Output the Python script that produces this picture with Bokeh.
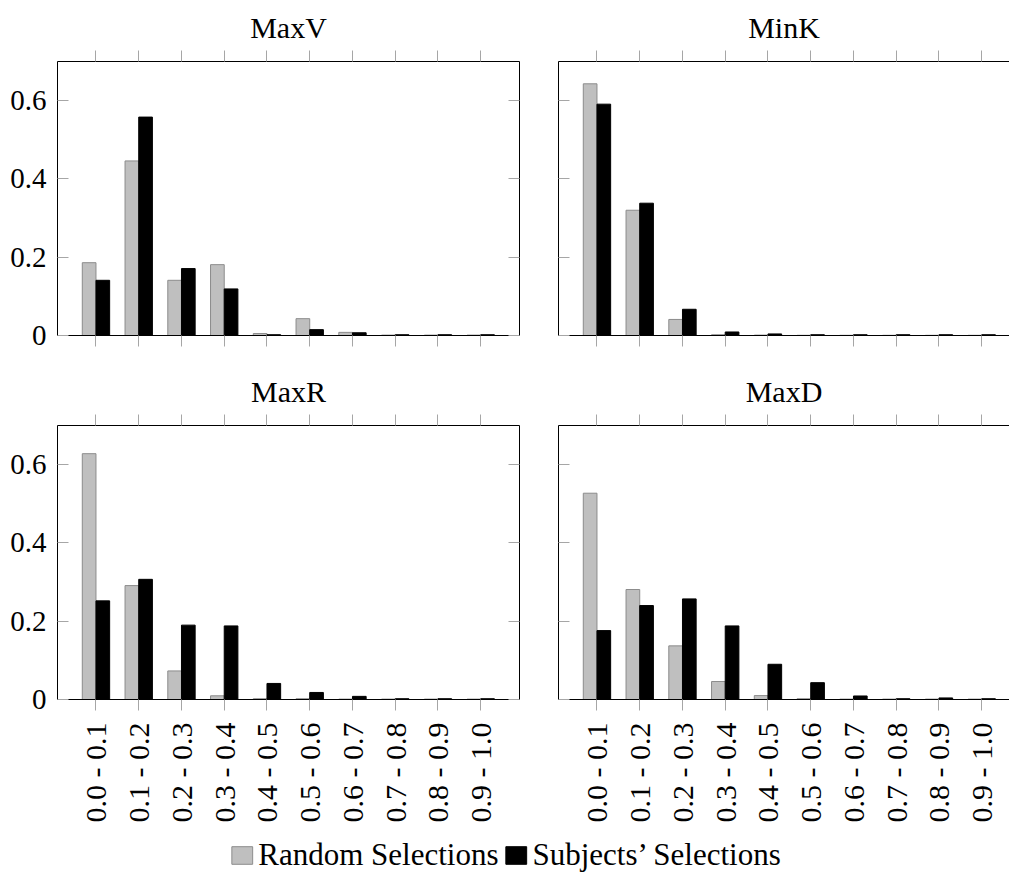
import math
from bokeh.plotting import figure
from bokeh.models import FixedTicker, LinearAxis, Range1d, ColumnDataSource, Legend, LegendItem
from bokeh.layouts import column, row
from bokeh.embed import file_html
from bokeh.resources import INLINE

categories = ["0.0 - 0.1", "0.1 - 0.2", "0.2 - 0.3", "0.3 - 0.4", "0.4 - 0.5",
              "0.5 - 0.6", "0.6 - 0.7", "0.7 - 0.8", "0.8 - 0.9", "0.9 - 1.0"]

maxv_random = [0.186, 0.446, 0.141, 0.181, 0.005, 0.043, 0.008, 0.001, 0.001, 0.001]
maxv_subjects = [0.141, 0.558, 0.171, 0.119, 0.002, 0.015, 0.007, 0.002, 0.002, 0.002]
mink_random = [0.643, 0.320, 0.041, 0.002, 0.001, 0.0005, 0.0005, 0.0005, 0.0005, 0.0005]
mink_subjects = [0.591, 0.338, 0.067, 0.009, 0.004, 0.002, 0.002, 0.002, 0.002, 0.002]
maxr_random = [0.628, 0.291, 0.073, 0.0095, 0.002, 0.002, 0.001, 0.001, 0.001, 0.001]
maxr_subjects = [0.252, 0.307, 0.190, 0.188, 0.041, 0.018, 0.008, 0.002, 0.002, 0.002]
maxd_random = [0.527, 0.281, 0.137, 0.046, 0.010, 0.002, 0.001, 0.001, 0.001, 0.001]
maxd_subjects = [0.176, 0.240, 0.257, 0.188, 0.090, 0.043, 0.009, 0.002, 0.004, 0.002]

y_ticks = [0, 0.2, 0.4, 0.6]
y_tick_labels = ["0", "0.2", "0.4", "0.6"]
series_names = ["Random Selections", "Subjects\u2019 Selections"]

FONT = "Liberation Serif"
GRAY_FILL = "#bfbfbf"
GRAY_LINE = "#8c8c8c"
TICK_COLOR = "#a6a6a6"
BAR_W = 0.32
X_START = -0.9
UNIT_PX = 42.75


def style_axis(ax, tick_in=0, tick_out=0, labels=False):
    ax.axis_line_color = "black"
    ax.axis_line_width = 1
    ax.major_tick_line_color = TICK_COLOR
    ax.major_tick_line_width = 1
    ax.major_tick_in = tick_in
    ax.major_tick_out = tick_out
    ax.minor_tick_line_color = None
    ax.major_label_text_font = FONT
    ax.major_label_text_color = "black"
    if not labels:
        ax.major_label_text_font_size = "0px"
        ax.major_label_standoff = 0


def make_panel(title, rnd, sub, frame_w, left_b, right_b, top_b, bottom_b,
               ylabels, xlabels, right_axis):
    x_end = X_START + frame_w / UNIT_PX
    p = figure(frame_width=frame_w, frame_height=274,
               x_range=Range1d(X_START, x_end), y_range=Range1d(0, 0.7),
               output_backend="svg", toolbar_location=None,
               x_axis_location=None, y_axis_location=None,
               min_border_left=left_b, min_border_right=right_b,
               min_border_top=top_b, min_border_bottom=bottom_b)
    p.outline_line_color = None
    p.xgrid.visible = False
    p.ygrid.visible = False
    p.background_fill_color = "white"
    p.border_fill_color = "white"

    idx = list(range(len(categories)))
    src = ColumnDataSource(dict(
        xr=[i - BAR_W / 2 for i in idx], xs=[i + BAR_W / 2 for i in idx],
        r=rnd, s=sub))
    p.vbar(x="xr", top="r", bottom=0, width=BAR_W, source=src,
           fill_color=GRAY_FILL, line_color=GRAY_LINE, line_width=1)
    p.vbar(x="xs", top="s", bottom=0, width=BAR_W, source=src,
           fill_color="black", line_color="black", line_width=1)

    xt = FixedTicker(ticks=idx)
    yt = FixedTicker(ticks=y_ticks)

    bx = LinearAxis(ticker=xt)
    style_axis(bx, tick_out=11, labels=xlabels)
    if xlabels:
        bx.major_label_overrides = {i: categories[i] for i in idx}
        bx.major_label_orientation = math.pi / 2
        bx.major_label_text_font_size = "30px"
        bx.major_label_standoff = 12
    p.add_layout(bx, "below")
    tx = LinearAxis(ticker=xt)
    style_axis(tx, tick_out=11)
    p.add_layout(tx, "above")
    ly = LinearAxis(ticker=yt)
    style_axis(ly, tick_in=11, labels=ylabels)
    if ylabels:
        ly.major_label_overrides = {y_ticks[i]: y_tick_labels[i] for i in range(len(y_ticks))}
        ly.major_label_text_font_size = "29px"
        ly.major_label_standoff = 11
    p.add_layout(ly, "left")
    if right_axis:
        ry = LinearAxis(ticker=yt)
        style_axis(ry, tick_in=11)
        p.add_layout(ry, "right")

    p.title.text = title
    p.title.align = "center"
    p.title.text_font = FONT
    p.title.text_font_size = "30px"
    p.title.text_font_style = "normal"
    p.title.text_color = "black"
    p.title.standoff = 14
    return p


tl = make_panel("MaxV", maxv_random, maxv_subjects, 462, 57, 10, 61, 16, True, False, True)
tr = make_panel("MinK", mink_random, mink_subjects, 451, 29, 0, 61, 16, False, False, False)
bl = make_panel("MaxR", maxr_random, maxr_subjects, 462, 57, 10, 74, 138, True, True, True)
br = make_panel("MaxD", maxd_random, maxd_subjects, 451, 29, 0, 74, 138, False, True, False)

lg = figure(width=1009, height=36, output_backend="svg", toolbar_location=None,
            x_axis_location=None, y_axis_location=None,
            x_range=Range1d(0, 1), y_range=Range1d(0, 1),
            min_border_left=0, min_border_right=0, min_border_top=0, min_border_bottom=0)
lg.outline_line_color = None
lg.xgrid.visible = False
lg.ygrid.visible = False
hidden = ColumnDataSource(dict(x=[-10], top=[-10]))
r1 = lg.vbar(x="x", top="top", bottom=-11, width=1, source=hidden, fill_color=GRAY_FILL, line_color=GRAY_LINE)
r2 = lg.vbar(x="x", top="top", bottom=-11, width=1, source=hidden, fill_color="black", line_color="black")
legend = Legend(items=[LegendItem(label=series_names[0], renderers=[r1]),
                       LegendItem(label=series_names[1], renderers=[r2])],
                orientation="horizontal", location="center")
legend.label_text_font = FONT
legend.label_text_font_size = "31px"
legend.label_text_color = "black"
legend.border_line_color = None
legend.background_fill_alpha = 0
legend.glyph_width = 26
legend.glyph_height = 22
legend.label_standoff = 4
legend.spacing = 4
legend.padding = 0
legend.margin = 0
lg.add_layout(legend, "center")

layout = column(row(tl, tr), row(bl, br), lg, spacing=0)
open("out.html", "w").write(file_html(layout, INLINE))
